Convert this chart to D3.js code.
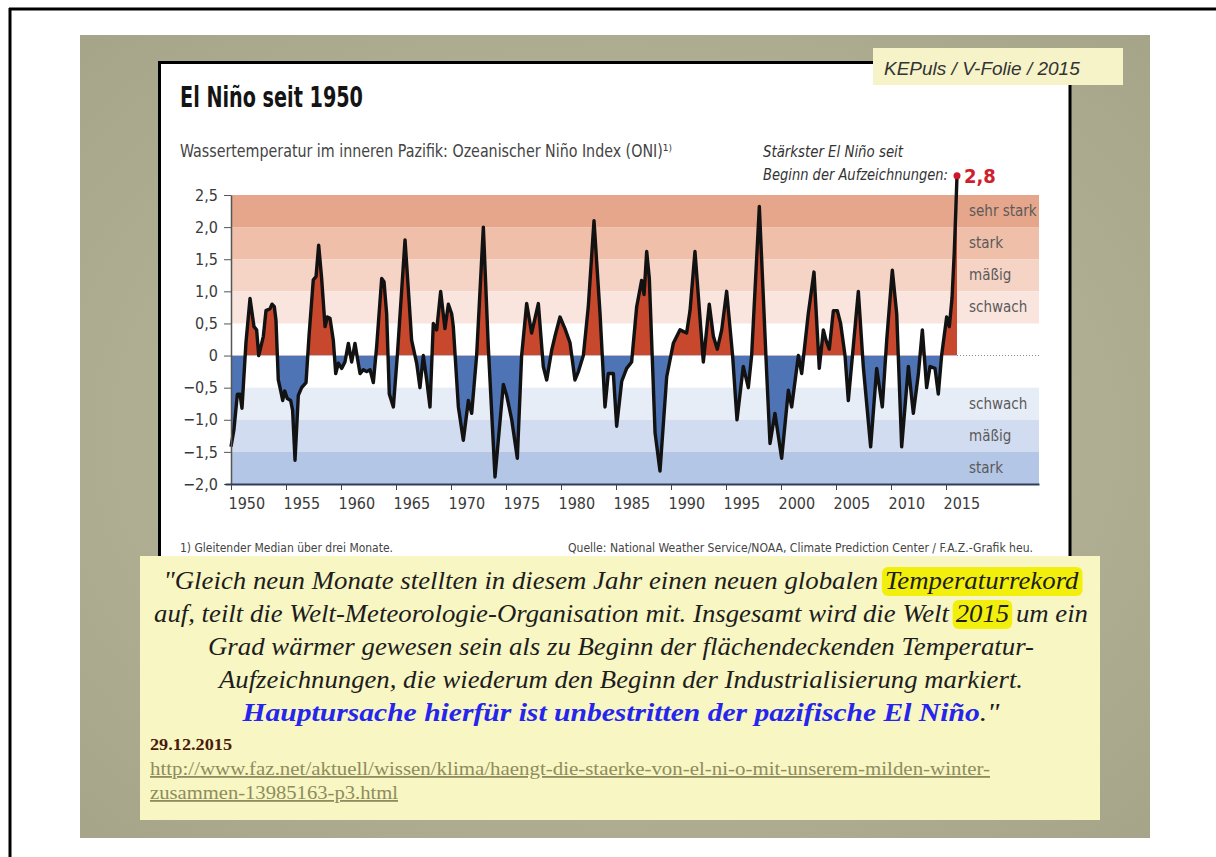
<!DOCTYPE html>
<html>
<head>
<meta charset="utf-8">
<script src="https://cdn.jsdelivr.net/npm/d3@7"></script>
<style>
  html, body { margin: 0; padding: 0; background: #fff; }
  svg { display: block; }
</style>
</head>
<body>
<script>
// ONI turning points (year, value)
const oniYears = [
  1950.0, 1950.27, 1950.58, 1950.82, 1951.0, 1951.36, 1951.73, 1952.09, 1952.33, 1952.52,
  1952.94, 1953.18, 1953.55, 1953.73, 1953.94, 1954.09, 1954.3, 1954.52, 1954.7, 1954.88,
  1955.12, 1955.42, 1955.6, 1955.82, 1956.12, 1956.42, 1956.82, 1957.09, 1957.48, 1957.73,
  1957.97, 1958.24, 1958.55, 1958.76, 1959.0, 1959.3, 1959.52, 1959.76, 1960.06, 1960.36,
  1960.67, 1960.97, 1961.27, 1961.52, 1961.73, 1962.03, 1962.33, 1962.64, 1962.94, 1963.24,
  1963.7, 1963.91, 1964.15, 1964.39, 1964.76, 1965.12, 1965.82, 1966.21, 1966.42, 1966.88,
  1967.18, 1967.48, 1967.79, 1968.09, 1968.39, 1968.7, 1969.06, 1969.45, 1969.76, 1970.06,
  1970.21, 1970.67, 1971.12, 1971.58, 1971.88, 1972.33, 1972.94, 1973.39, 1974.0, 1974.76,
  1975.06, 1975.52, 1976.03, 1976.42, 1976.88, 1977.33, 1977.94, 1978.39, 1978.7, 1979.15,
  1979.45, 1979.91, 1980.36, 1980.82, 1981.27, 1981.58, 1982.03, 1982.48, 1983.0, 1983.55,
  1984.0, 1984.3, 1984.76, 1985.06, 1985.52, 1985.97, 1986.42, 1986.88, 1987.33, 1987.55,
  1987.79, 1988.03, 1988.55, 1989.0, 1989.61, 1990.21, 1990.82, 1991.42, 1991.73, 1992.18,
  1992.94, 1993.48, 1993.85, 1994.21, 1994.61, 1995.06, 1995.6, 1996.0, 1996.57, 1997.03,
  1997.33, 1998.03, 1998.7, 1999.0, 1999.45, 2000.06, 2000.67, 2000.97, 2001.58, 2001.88,
  2002.48, 2003.0, 2003.48, 2003.85, 2004.09, 2004.39, 2004.76, 2005.12, 2005.42, 2005.82,
  2006.12, 2006.57, 2007.03, 2007.48, 2008.15, 2008.7, 2009.21, 2009.61, 2010.12, 2010.52,
  2010.97, 2011.58, 2012.03, 2012.48, 2012.85, 2013.24, 2013.55, 2014.0, 2014.3, 2014.6,
  2015.06, 2015.3, 2015.55, 2015.75, 2015.9, 2016.0
];
const oniValues = [
  -1.42, -1.15, -0.6, -0.6, -0.82, 0.2, 0.89, 0.45, 0.4, 0.0,
  0.3, 0.7, 0.73, 0.8, 0.76, 0.55, -0.38, -0.55, -0.7, -0.55,
  -0.67, -0.7, -0.85, -1.63, -0.62, -0.5, -0.42, 0.3, 1.18, 1.23,
  1.72, 1.2, 0.45, 0.6, 0.58, 0.24, -0.28, -0.12, -0.2, -0.1,
  0.19, -0.1, 0.19, -0.07, -0.28, -0.22, -0.25, -0.22, -0.42, 0.14,
  1.2, 1.15, 0.65, -0.6, -0.8, 0.0, 1.8, 0.8, 0.24, -0.12,
  -0.5, 0.0, -0.38, -0.8, 0.5, 0.4, 1.0, 0.42, 0.8, 0.65,
  0.45, -0.8, -1.32, -0.7, -0.9, 0.0, 2.0, 0.14, -1.89, -0.45,
  -0.62, -1.0, -1.6, 0.0, 0.81, 0.35, 0.81, -0.17, -0.38, 0.08,
  0.3, 0.6, 0.42, 0.2, -0.38, -0.25, 0.0, 0.76, 2.1, 0.65,
  -0.8, -0.28, -0.28, -1.1, -0.4, -0.2, -0.1, 0.76, 1.17, 0.95,
  1.62, 1.2, -1.2, -1.8, -0.33, 0.19, 0.4, 0.35, 0.7, 1.62,
  -0.1, 0.8, 0.3, 0.1, 0.4, 1.0, 0.0, -1.0, -0.17, -0.5,
  0.0, 2.32, -0.28, -1.37, -0.9, -1.6, -0.54, -0.8, 0.0, -0.28,
  0.65, 1.3, -0.2, 0.4, 0.24, 0.1, 0.7, 0.7, 0.5, 0.0,
  -0.7, 0.14, 1.0, -0.17, -1.42, -0.2, -0.8, 0.24, 1.33, 0.65,
  -1.42, -0.17, -0.9, -0.3, 0.4, -0.5, -0.17, -0.2, -0.6, 0.0,
  0.6, 0.45, 0.9, 1.6, 2.3, 2.8
];
const yTicks = [2.5, 2.0, 1.5, 1.0, 0.5, 0, -0.5, -1.0, -1.5, -2.0];
const xTicks = [1950, 1955, 1960, 1965, 1970, 1975, 1980, 1985, 1990, 1995, 2000, 2005, 2010, 2015];
const bandLow = [2.0, 1.5, 1.0, 0.5, -1.0, -1.5, -2.0];
const bandHigh = [2.5, 2.0, 1.5, 1.0, -0.5, -1.0, -1.5];
const bandNames = ["sehr stark", "stark", "mäßig", "schwach", "schwach", "mäßig", "stark"];
const peakLabel = "2,8";

const quoteLines = [
  [["\"Gleich neun Monate stellten in diesem Jahr einen neuen globalen ", ""], ["Temperaturrekord", "hl"]],
  [["auf, teilt die Welt-Meteorologie-Organisation mit. Insgesamt wird die Welt ", ""], ["2015", "hl"], [" um ein", ""]],
  [["Grad wärmer gewesen sein als zu Beginn der flächendeckenden Temperatur-", ""]],
  [["Aufzeichnungen, die wiederum den Beginn der Industrialisierung markiert.", ""]],
  [["Hauptursache hierfür ist unbestritten der pazifische El Niño", "blue"], [".\"", ""]]
];

const W = 1216, H = 857;
const condensed = "'Liberation Sans Narrow', 'DejaVu Sans Condensed', 'Roboto Condensed', 'Arial Narrow', sans-serif";
const serif = "'Liberation Serif', 'Times New Roman', serif";
const bandColors = ["#e6a68b", "#efbfa9", "#f5d3c5", "#f9e5dd", "#e7edf7", "#d1dcf0", "#b3c6e5"];

const svg = d3.select("body").append("svg")
  .attr("width", W)
  .attr("height", H);
const defs = svg.append("defs");

svg.append("rect").attr("width", W).attr("height", H).attr("fill", "#fff");
// page frame
svg.append("line").attr("x1", 9).attr("x2", W).attr("y1", 9).attr("y2", 9)
  .attr("stroke", "#000").attr("stroke-width", 3);
svg.append("line").attr("x1", 10).attr("x2", 10).attr("y1", 8).attr("y2", H)
  .attr("stroke", "#000").attr("stroke-width", 3);

// olive slide background
let grad = defs.append("radialGradient").attr("id", "olive")
  .attr("cx", "50%").attr("cy", "50%").attr("r", "70%");
grad.append("stop").attr("offset", "0%").attr("stop-color", "#bfbda2");
grad.append("stop").attr("offset", "100%").attr("stop-color", "#a6a489");
svg.append("rect")
  .attr("x", 80).attr("y", 35).attr("width", 1070).attr("height", 803)
  .attr("fill", "url(#olive)");

// white chart panel with black border
svg.append("rect")
  .attr("x", 159).attr("y", 62).attr("width", 911).attr("height", 500)
  .attr("fill", "#fff");
svg.append("path")
  .attr("d", "M159.5,562V62.5H1070V562")
  .attr("fill", "none").attr("stroke", "#000").attr("stroke-width", 3);

// label box top right
svg.append("rect")
  .attr("x", 873).attr("y", 48).attr("width", 250).attr("height", 37)
  .attr("fill", "#f6f3c9");
svg.append("text")
  .attr("x", 884).attr("y", 75)
  .style("font-family", "'Liberation Sans', Arial, sans-serif")
  .style("font-style", "italic")
  .style("font-size", "19px")
  .attr("fill", "#333")
  .text("KEPuls / V-Folie / 2015");

//////////
// CHART //
//////////
const x = d3.scaleLinear().domain([1950, 2016]).range([231, 957]);
const y = d3.scaleLinear().domain([-2.0, 2.5]).range([484, 195]);
const plotRight = 1039;
const data = oniYears.map((yr, i) => ({ year: yr, value: oniValues[i] }));

const chart = svg.append("g");

// intensity bands
chart.selectAll("rect.band")
  .data(bandNames)
  .enter()
  .append("rect")
  .attr("class", "band")
  .attr("x", x(1950))
  .attr("width", plotRight - x(1950))
  .attr("y", (d, i) => y(bandHigh[i]))
  .attr("height", (d, i) => y(bandLow[i]) - y(bandHigh[i]))
  .attr("fill", (d, i) => bandColors[i]);

chart.selectAll("text.band")
  .data(bandNames)
  .enter()
  .append("text")
  .attr("class", "band")
  .attr("x", 969)
  .attr("y", (d, i) => (y(bandHigh[i]) + y(bandLow[i])) / 2 + 5)
  .style("font-family", condensed)
  .style("font-size", "15px")
  .attr("fill", "#5a5a5a")
  .text(d => d);

// dotted zero line after the data
chart.append("line")
  .attr("x1", x(2016)).attr("x2", plotRight)
  .attr("y1", y(0)).attr("y2", y(0))
  .attr("stroke", "#8a8a8a").attr("stroke-width", 1)
  .attr("stroke-dasharray", "1,2");

// red / blue fills, clipped at zero
defs.append("clipPath").attr("id", "clipUp")
  .append("rect").attr("x", 0).attr("y", 0).attr("width", W).attr("height", y(0));
defs.append("clipPath").attr("id", "clipDown")
  .append("rect").attr("x", 0).attr("y", y(0)).attr("width", W).attr("height", H - y(0));

const area = d3.area()
  .x(d => x(d.year))
  .y0(y(0))
  .y1(d => y(d.value));
chart.append("path").datum(data)
  .attr("clip-path", "url(#clipUp)")
  .attr("fill", "#c8482d")
  .attr("d", area);
chart.append("path").datum(data)
  .attr("clip-path", "url(#clipDown)")
  .attr("fill", "#4e74b6")
  .attr("d", area);

const line = d3.line()
  .x(d => x(d.year))
  .y(d => y(d.value));
chart.append("path").datum(data)
  .attr("fill", "none")
  .attr("stroke", "#121212")
  .attr("stroke-width", 3.4)
  .attr("stroke-linejoin", "round")
  .attr("d", line);

// axes
const de = d3.formatLocale({ decimal: ",", thousands: ".", grouping: [3], currency: ["", " €"], minus: "\u2212" });
const fmt = de.format(".1f");

const yAxis = chart.append("g")
  .attr("transform", "translate(" + x(1950) + ",0)")
  .call(d3.axisLeft(y).tickValues(yTicks).tickSize(7).tickSizeOuter(0).tickPadding(6)
    .tickFormat(d => (d === 0 ? "0" : fmt(d))));
yAxis.select(".domain").attr("stroke", "#555").attr("stroke-width", 1.5);
yAxis.selectAll(".tick line").attr("stroke", "#555");
yAxis.selectAll(".tick text")
  .style("font-family", condensed).style("font-size", "16px").attr("fill", "#3a3a3a");

const xAxisScale = x.copy().domain([x.invert(225), x.invert(plotRight)]).range([225, plotRight]);
const xAxis = chart.append("g")
  .attr("transform", "translate(0," + y(-2.0) + ")")
  .call(d3.axisBottom(xAxisScale).tickValues(xTicks).tickSize(6).tickSizeOuter(0).tickPadding(8)
    .tickFormat(d => String(d)));
xAxis.select(".domain").attr("stroke", "#2e3d5c").attr("stroke-width", 2);
xAxis.selectAll(".tick line").attr("stroke", "#444");
xAxis.selectAll(".tick text")
  .attr("text-anchor", "start").attr("dx", -3)
  .style("font-family", condensed).style("font-size", "16px").attr("fill", "#3a3a3a");

// titles
svg.append("text")
  .attr("x", 180).attr("y", 107)
  .style("font-family", condensed).style("font-weight", "bold").style("font-size", "28px")
  .attr("textLength", 183).attr("lengthAdjust", "spacingAndGlyphs")
  .attr("fill", "#141414")
  .text("El Niño seit 1950");
svg.append("text")
  .attr("x", 180).attr("y", 157)
  .style("font-family", condensed).style("font-size", "17px")
  .attr("textLength", 492).attr("lengthAdjust", "spacingAndGlyphs")
  .attr("fill", "#444")
  .text("Wassertemperatur im inneren Pazifik: Ozeanischer Niño Index (ONI)\u00B9\u207E");

// peak annotation
svg.append("text")
  .attr("x", 763).attr("y", 157)
  .style("font-family", condensed).style("font-style", "italic").style("font-size", "16px")
  .attr("textLength", 140).attr("lengthAdjust", "spacingAndGlyphs")
  .attr("fill", "#333")
  .text("Stärkster El Niño seit");
svg.append("text")
  .attr("x", 763).attr("y", 180)
  .style("font-family", condensed).style("font-style", "italic").style("font-size", "16px")
  .attr("textLength", 185).attr("lengthAdjust", "spacingAndGlyphs")
  .attr("fill", "#333")
  .text("Beginn der Aufzeichnungen:");
const peak = data[data.length - 1];
svg.append("circle")
  .attr("cx", x(peak.year)).attr("cy", y(peak.value)).attr("r", 3.5)
  .attr("fill", "#d0142c");
svg.append("text")
  .attr("x", x(peak.year) + 7).attr("y", y(peak.value) + 7)
  .style("font-family", condensed).style("font-weight", "bold").style("font-size", "20px")
  .attr("fill", "#cf1f2e")
  .text(peakLabel);

// footnotes
svg.append("text")
  .attr("x", 180).attr("y", 552)
  .style("font-family", condensed).style("font-size", "12px")
  .attr("textLength", 213).attr("lengthAdjust", "spacingAndGlyphs")
  .attr("fill", "#444")
  .text("1) Gleitender Median über drei Monate.");
svg.append("text")
  .attr("x", 1033).attr("y", 552)
  .attr("text-anchor", "end")
  .style("font-family", condensed).style("font-size", "12px")
  .attr("textLength", 465).attr("lengthAdjust", "spacingAndGlyphs")
  .attr("fill", "#444")
  .text("Quelle: National Weather Service/NOAA, Climate Prediction Center / F.A.Z.-Grafik heu.");

//////////
// QUOTE BOX //
//////////
svg.append("rect")
  .attr("x", 140).attr("y", 556).attr("width", 960).attr("height", 264)
  .attr("fill", "#f8f6c2");

const lineWidths = [915, 934, 826, 804, 757];
const lineY = [589, 622, 655, 688, 721];
const quote = svg.append("g");
quoteLines.forEach((segs, i) => {
  let t = quote.append("text")
    .attr("class", "q")
    .attr("x", 621).attr("y", lineY[i])
    .attr("text-anchor", "middle")
    .attr("textLength", lineWidths[i]).attr("lengthAdjust", "spacingAndGlyphs")
    .style("font-family", serif).style("font-style", "italic").style("font-size", "26px")
    .attr("fill", "#1d1d1d");
  segs.forEach(s => {
    let ts = t.append("tspan").text(s[0]).attr("class", s[1]);
    if (s[1] === "blue") ts.attr("fill", "#2525ee").style("font-weight", "bold");
  });
});
// yellow highlights behind marked words
quote.selectAll("tspan.hl").each(function() {
  let b = this.getBBox();
  quote.insert("rect", "text")
    .attr("x", b.x - 3).attr("y", b.y + 1)
    .attr("width", b.width + 6).attr("height", b.height)
    .attr("rx", 6)
    .attr("fill", "#f3ef0c");
});

svg.append("text")
  .attr("x", 150).attr("y", 750)
  .style("font-family", serif).style("font-weight", "bold").style("font-size", "17px")
  .attr("textLength", 82).attr("lengthAdjust", "spacingAndGlyphs")
  .attr("fill", "#4a1b0d")
  .text("29.12.2015");
svg.append("text")
  .attr("x", 150).attr("y", 775)
  .style("font-family", serif).style("font-size", "18px").style("text-decoration", "underline")
  .attr("textLength", 840).attr("lengthAdjust", "spacingAndGlyphs")
  .attr("fill", "#8e8c5e")
  .text("http://www.faz.net/aktuell/wissen/klima/haengt-die-staerke-von-el-ni-o-mit-unserem-milden-winter-");
svg.append("text")
  .attr("x", 150).attr("y", 799)
  .style("font-family", serif).style("font-size", "18px").style("text-decoration", "underline")
  .attr("textLength", 248).attr("lengthAdjust", "spacingAndGlyphs")
  .attr("fill", "#8e8c5e")
  .text("zusammen-13985163-p3.html");
</script>
</body>
</html>
